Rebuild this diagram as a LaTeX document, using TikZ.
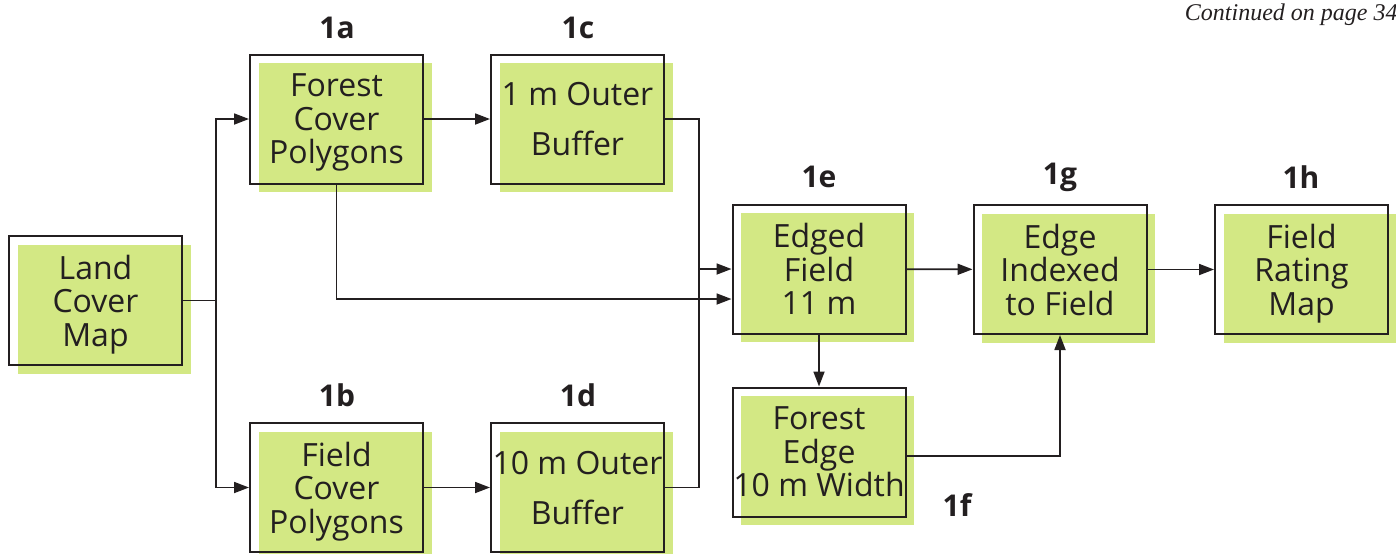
\documentclass[tikz,border=0pt]{standalone}
\usepackage{fontspec}
\setmainfont{Open Sans}
\newfontfamily\contfont{Liberation Serif}
\usetikzlibrary{shadows,arrows.meta}
\definecolor{boxgreen}{RGB}{211,232,132}
\definecolor{ink}{RGB}{35,31,32}
\tikzset{
  box/.style={draw=ink, line width=1pt, minimum width=86.5pt, minimum height=64.5pt,
    inner sep=0pt, align=center, text=ink, text depth=-3.5pt,
    font=\fontsize{16pt}{16.75pt}\selectfont,
    drop shadow={shadow xshift=4.25pt, shadow yshift=-4.25pt, fill=boxgreen, opacity=1}},
  box2/.style={box, text depth=0pt, font=\fontsize{16pt}{25pt}\selectfont},
  lbl/.style={font=\fontsize{15pt}{15pt}\selectfont\bfseries, text=ink, inner sep=0pt},
  conn/.style={draw=ink, line width=0.9pt},
  arr/.style={conn, -{Triangle[length=7.5pt,width=5.5pt]}}
}
\begin{document}
\begin{tikzpicture}[x=0.5pt,y=-0.5pt]
\useasboundingbox (0,0) rectangle (1396,553);
% boxes
\node[box] (lc) at (95.5,300.5) {Land\\Cover\\Map};
\node[box] (a) at (336.5,119) {Forest\\Cover\\Polygons};
\node[box2] (c) at (577.5,119) {1 m Outer\\Buffer};
\node[box] (b) at (336.5,487.5) {Field\\Cover\\Polygons};
\node[box2] (d) at (577.5,487.5) {10 m Outer\\Buffer};
\node[box] (e) at (819,269) {Edged\\Field\\11 m};
\node[box] (f) at (819,452) {Forest\\Edge\\10 m Width};
\node[box] (g) at (1060,269.5) {Edge\\Indexed\\to Field};
\node[box] (h) at (1301.5,269.5) {Field\\Rating\\Map};
% labels
\node[lbl] (la) at (337,28) {1a};
\node[lbl] (lcc) at (578,28) {1c};
\node[lbl] (lb) at (337,395) {1b};
\node[lbl] (ld) at (578,395) {1d};
\node[lbl] (le) at (819,177) {1e};
\node[lbl] (lg) at (1060,177) {1g};
\node[lbl] (lh) at (1301,177) {1h};
\node[lbl] (lf) at (957,505) {1f};
\node[anchor=base east, inner sep=0pt, text=ink, font=\contfont\itshape\fontsize{12pt}{12pt}\selectfont] (cont) at (1398,20) {Continued on page 34};
% connectors
\coordinate (j) at (216,300.5);
\coordinate (k) at (699,119);
\draw[conn] (lc.east) -- (j);
\draw[arr] (j) |- (a.west);
\draw[arr] (j) |- (b.west);
\draw[arr] (a) -- (c);
\draw[arr] (b) -- (d);
\draw[conn] (c.east) -- (k) -- (k |- d.east) -- (d.east);
\draw[arr] (k |- e.west) -- (e.west);
\draw[arr] (a.south) |- ([yshift=-15pt]e.west);
\draw[arr] (e) -- (g);
\draw[arr] (g) -- (h);
\draw[arr] (e) -- (f);
\draw[arr] ([yshift=-2pt]f.east) -| (g.south);
\end{tikzpicture}
\end{document}
